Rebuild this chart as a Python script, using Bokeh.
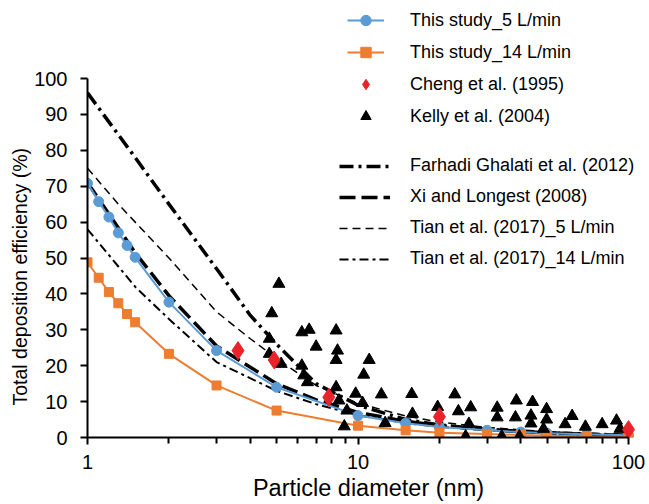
from bokeh.plotting import figure
from bokeh.models import Range1d, FixedTicker, NumeralTickFormatter, Legend, LegendItem, Title
from bokeh.embed import file_html
from bokeh.resources import INLINE

# ---- data ----
study_x = [1, 1.1, 1.2, 1.3, 1.4, 1.5, 2, 3, 5, 10, 15, 20, 30, 40, 50, 70, 100]
study5_y = [70.8, 65.7, 61.4, 57.0, 53.5, 50.2, 37.7, 24.2, 14.0, 6.1, 4.0, 2.9, 2.0, 1.5, 1.2, 0.9, 0.6]
study14_y = [48.8, 44.5, 40.5, 37.4, 34.4, 32.1, 23.3, 14.5, 7.5, 3.3, 2.0, 1.3, 1.0, 0.7, 0.5, 0.3, 0.2]

cheng_x = [3.6, 4.9, 7.8, 20, 100]
cheng_y = [24.2, 21.6, 11.2, 5.8, 2.2]

kelly_x = [4.7, 4.7, 4.8, 5.1, 5.2, 6.2, 6.6, 6.2, 6.3, 6.5, 7.0, 8.3, 8.4, 8.3, 8.3, 8.5,
           9.1, 8.9, 9.8, 10.4, 10.5, 11.0, 12.2, 12.6, 15.8, 15.9, 19.7, 22.8, 23.5, 26.1,
           25.7, 25.0, 32.7, 32.7, 34.0, 38.5, 38.2, 39.5, 44.2, 43.6, 43.6, 49.8, 49.8, 48.5,
           58.3, 61.9, 69.3, 79.9, 90.3, 93.0]
kelly_y = [27.5, 23.3, 34.6, 42.8, 20.5, 29.3, 30.0, 20.0, 17.3, 15.4, 25.3, 29.8, 24.2, 21.6, 14.0, 10.3,
           7.5, 3.1, 12.2, 9.6, 17.5, 21.6, 12.0, 4.0, 12.1, 6.6, 8.5, 12.0, 7.3, 8.4,
           3.8, 0.3, 8.3, 5.6, 0.3, 10.3, 5.6, 0.3, 9.9, 6.1, 3.9, 7.9, 5.0, 2.4,
           3.7, 6.0, 3.0, 3.7, 4.7, 2.4]

farhadi_x = [1, 1.5, 2, 3, 4, 5, 7, 10, 15, 20, 30, 50, 100]
farhadi_y = [96, 78, 65, 47, 34, 26, 15, 9, 5, 3.5, 2.2, 1.3, 0.6]

xi_x = [1, 1.5, 2, 3, 5, 7, 10, 15, 20, 30, 50, 100]
xi_y = [71, 51.5, 39.5, 25.5, 15, 10.5, 7, 4.5, 3.3, 2.2, 1.3, 0.5]

tian5_x = [1, 1.3, 2, 3, 4, 5, 7, 10, 15, 20, 30, 50, 100]
tian5_y = [75, 65, 50, 35, 27.5, 22, 14.5, 9.5, 6, 4.3, 2.8, 1.6, 0.7]

tian14_x = [1, 1.5, 2, 3, 5, 7, 10, 15, 20, 30, 50, 100]
tian14_y = [58, 42, 33, 21, 13, 9.3, 6.2, 4, 3, 2, 1.2, 0.5]

y_ticks = [0, 10, 20, 30, 40, 50, 60, 70, 80, 90, 100]
x_major = [1, 10, 100]
x_minor = [2, 3, 4, 5, 6, 7, 8, 9, 20, 30, 40, 50, 60, 70, 80, 90]

FONT = "Liberation Sans"
BLUE = "#5B9BD5"
ORANGE = "#ED7D31"
RED = "#E8232A"

# frame spans the whole page top/right so the legend (which sits above/right of
# the axes) is not clipped; axis lines are limited with bounds
BOTTOM = 67
frame_h = 504 - BOTTOM          # 437
y_end = 100 * frame_h / 359.0   # 100 sits 359 px above the x axis
x_end = 10 ** (2 + 21 / 270.5)  # 100 sits 21 px left of the right edge

p = figure(width=649, height=504, x_axis_type="log",
           x_range=Range1d(1, x_end), y_range=Range1d(0, y_end),
           output_backend="svg", toolbar_location=None,
           min_border_left=87, min_border_right=0, min_border_top=0, min_border_bottom=BOTTOM)
p.outline_line_color = None
p.xgrid.visible = False
p.ygrid.visible = False
p.background_fill_color = "white"
p.border_fill_color = "white"

# reference lines
r_far = p.line(farhadi_x, farhadi_y, line_color="black", line_width=3.5, line_dash="14 5 3 5")
r_xi = p.line(xi_x, xi_y, line_color="black", line_width=3.5, line_dash="16 6")
r_t5 = p.line(tian5_x, tian5_y, line_color="black", line_width=1.5, line_dash="8 5")
r_t14 = p.line(tian14_x, tian14_y, line_color="black", line_width=2, line_dash="9 4 3 4")

# this study
l5 = p.line(study_x, study5_y, line_color=BLUE, line_width=2)
m5 = p.scatter(study_x, study5_y, marker="circle", size=10, fill_color=BLUE, line_color=BLUE)
l14 = p.line(study_x, study14_y, line_color=ORANGE, line_width=2)
m14 = p.scatter(study_x, study14_y, marker="square", size=9, fill_color=ORANGE, line_color=ORANGE)

r_kelly = p.scatter(kelly_x, kelly_y, marker="triangle", size=12, fill_color="black", line_color="black")
r_cheng = p.scatter(cheng_x, cheng_y, marker="diamond", size=18, fill_color=RED, line_color=RED)

# axes
p.xaxis.ticker = FixedTicker(ticks=x_major, minor_ticks=x_minor)
p.xaxis.formatter = NumeralTickFormatter(format="0")
p.yaxis.ticker = FixedTicker(ticks=y_ticks)
p.xaxis.bounds = (1, 100)
p.yaxis.bounds = (0, 100)
for ax in (p.xaxis[0], p.yaxis[0]):
    ax.axis_line_color = "black"
    ax.axis_line_width = 2
    ax.major_tick_line_color = "black"
    ax.major_tick_line_width = 2
    ax.minor_tick_line_color = "black"
    ax.minor_tick_line_width = 2
    ax.major_tick_in = 0
    ax.minor_tick_in = 0
    ax.major_tick_out = 7
    ax.minor_tick_out = 6
    ax.major_label_text_font = FONT
    ax.major_label_text_font_size = "20px"
    ax.major_label_text_color = "black"
p.yaxis.minor_tick_line_color = None
p.xaxis.major_label_standoff = 10
p.yaxis.major_label_standoff = 13
p.xaxis.axis_label = "Particle diameter (nm)"
p.xaxis.axis_label_text_font = FONT
p.xaxis.axis_label_text_font_size = "23.5px"
p.xaxis.axis_label_text_font_style = "normal"
p.xaxis.axis_label_text_color = "black"
p.xaxis.axis_label_standoff = 3

# y title: placed on its own, so that it is centred on the 0-100 part of the axis
ytitle = Title(text="Total deposition efficiency (%)", align="left", offset=32,
               vertical_align="middle", standoff=0,
               text_font=FONT, text_font_size="19.5px", text_font_style="normal",
               text_color="black")
p.add_layout(ytitle, "left")

def mk_legend(items, loc, gw, gh, standoff, spacing):
    lg = Legend(items=items, location=loc, orientation="vertical",
                glyph_width=gw, glyph_height=gh, label_height=20,
                label_standoff=standoff, spacing=spacing, padding=0, margin=0,
                border_line_color=None, background_fill_alpha=0,
                label_text_font=FONT, label_text_font_size="18px", label_text_color="black")
    return lg

leg1 = mk_legend([
    LegendItem(label="This study_5 L/min", renderers=[l5, m5]),
    LegendItem(label="This study_14 L/min", renderers=[l14, m14]),
    LegendItem(label="Cheng et al. (1995)", renderers=[r_cheng]),
    LegendItem(label="Kelly et al. (2004)", renderers=[r_kelly]),
], (260, 308), 37, 26, 26, 6)
leg2 = mk_legend([
    LegendItem(label="Farhadi Ghalati et al. (2012)", renderers=[r_far]),
    LegendItem(label="Xi and Longest (2008)", renderers=[r_xi]),
    LegendItem(label="Tian et al. (2017)_5 L/min", renderers=[r_t5]),
    LegendItem(label="Tian et al. (2017)_14 L/min", renderers=[r_t14]),
], (252, 168), 51, 20, 20, 10)
p.add_layout(leg1)
p.add_layout(leg2)

open("out.html", "w").write(file_html(p, INLINE))
